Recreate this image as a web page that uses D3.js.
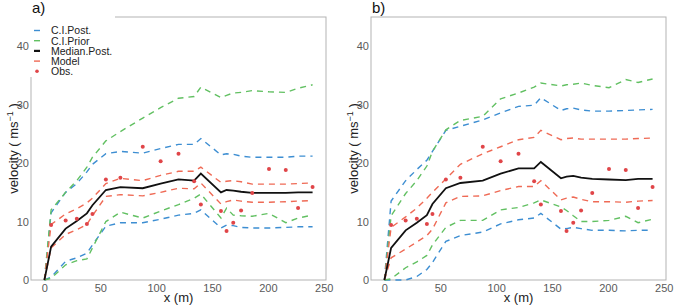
<!DOCTYPE html>
<html>
<head>
<meta charset="utf-8">
<script src="https://cdn.jsdelivr.net/npm/d3@7"></script>
<style>
  body { margin: 0; background: #fff; }
  svg { font-family: "Liberation Sans", Arial, sans-serif; }
</style>
</head>
<body>
<div id="chart"></div>
<script>
// distance along profile (m)
const xs = [0, 6, 19, 29, 38, 43, 55, 68, 88, 104, 120, 134, 140, 158, 163, 169, 176, 186, 201, 216, 227, 240];

// observations (no value at x = 0)
const obsX = [6, 19, 29, 38, 43, 55, 68, 88, 104, 120, 134, 140, 158, 163, 169, 176, 186, 201, 216, 227, 240];
const obsV = [9.4, 10.2, 10.5, 9.6, 11.3, 17.2, 17.5, 22.8, 20.3, 21.6, 16.9, 12.9, 11.8, 8.4, 9.8, 11.9, 14.9, 19.0, 18.8, 12.3, 15.9];

// panel a)
const aPostUp  = [0, 11.5, 15.0, 16.5, 18.5, 19.8, 21.6, 22.0, 21.7, 22.5, 23.2, 23.2, 24.2, 21.4, 21.6, 21.5, 21.2, 21.0, 21.0, 21.0, 21.2, 21.2];
const aPostLo  = [0, 0.5, 3.2, 3.8, 4.6, 6.0, 9.2, 9.8, 9.8, 10.4, 11.1, 11.4, 12.0, 8.9, 9.4, 9.3, 9.0, 8.9, 8.9, 9.0, 9.1, 9.1];
const aPriorUp = [0, 12.0, 15.0, 17.0, 19.3, 21.0, 23.8, 25.4, 27.7, 29.5, 31.1, 31.4, 33.0, 31.2, 31.6, 32.0, 32.1, 32.4, 32.2, 32.1, 32.8, 33.4];
const aPriorLo = [0, 0.3, 2.6, 3.3, 3.6, 5.5, 10.0, 11.6, 10.6, 11.8, 12.9, 14.0, 14.7, 10.6, 12.3, 11.1, 11.0, 10.9, 11.4, 9.8, 10.6, 11.1];
const aMedian  = [0, 5.7, 8.8, 10.1, 11.4, 12.8, 15.4, 15.9, 15.7, 16.5, 17.2, 17.0, 18.2, 15.0, 15.4, 15.3, 15.1, 14.9, 14.9, 14.9, 15.0, 15.0];
const aModelUp = [0, 9.5, 11.3, 12.2, 13.2, 14.0, 16.5, 17.4, 17.0, 17.9, 18.6, 18.6, 19.3, 16.7, 16.9, 17.0, 16.8, 16.4, 16.4, 16.4, 16.5, 16.6];
const aModelLo = [0, 5.5, 7.8, 8.6, 9.5, 11.0, 14.3, 14.6, 14.4, 15.0, 15.7, 15.6, 16.6, 13.0, 13.4, 13.7, 13.5, 13.3, 13.3, 13.4, 13.5, 13.6];

// panel b)
const bPostUp  = [0, 13.5, 17.0, 18.9, 20.5, 22.0, 25.6, 26.3, 27.4, 28.6, 29.7, 29.9, 31.2, 29.0, 29.3, 29.4, 29.1, 28.9, 28.9, 29.0, 29.1, 29.2];
const bPostLo  = [0, 0, 0, 0.6, 1.8, 3.0, 6.6, 7.6, 8.2, 9.6, 10.3, 10.6, 11.4, 8.7, 8.8, 9.0, 8.8, 8.5, 8.5, 8.4, 8.5, 8.5];
const bPriorUp = [0, 11.0, 14.8, 17.0, 19.5, 22.0, 25.7, 27.3, 28.0, 31.0, 32.0, 33.0, 33.7, 33.2, 33.4, 33.5, 33.7, 33.3, 32.9, 34.3, 33.8, 34.4];
const bPriorLo = [0, 0.2, 2.1, 3.1, 4.2, 6.0, 9.0, 10.2, 10.2, 12.0, 12.4, 13.2, 13.7, 12.5, 11.9, 11.0, 10.0, 10.0, 10.2, 10.9, 9.8, 10.4];
const bMedian  = [0, 5.5, 8.5, 9.8, 11.1, 13.0, 15.7, 16.6, 17.0, 18.2, 19.1, 19.1, 20.2, 17.4, 17.7, 17.8, 17.5, 17.3, 17.2, 17.1, 17.3, 17.3];
const bModelUp = [0, 9.0, 10.8, 12.3, 14.0, 15.0, 17.3, 19.8, 21.6, 22.8, 24.0, 24.4, 25.6, 24.0, 24.2, 24.3, 24.1, 24.1, 24.1, 24.1, 24.2, 24.3];
const bModelLo = [0, 3.8, 5.3, 6.5, 7.6, 8.7, 13.2, 14.3, 14.4, 15.3, 16.0, 16.0, 17.0, 13.7, 14.0, 14.2, 13.8, 13.4, 13.4, 13.3, 13.5, 13.6];

const xTicks = [0, 50, 100, 150, 200, 250];
const yTicks = [0, 10, 20, 30, 40];

const legendLabels = ["C.I.Post.", "C.I.Prior", "Median.Post.", "Model", "Obs."];

const colBlue = "#3d8ed2", colGreen = "#62c062", colRed = "#ef6a55", colObs = "#e04548";

const svg = d3.select("#chart").append("svg")
    .attr("width", 675)
    .attr("height", 306);

function drawPanel(left, tag, d, withLegend) {
  let margin = { top: 17, left: left };
  let width = 295, height = 263;

  let g = svg.append("g")
      .attr("transform", "translate(" + margin.left + "," + margin.top + ")");

  let x = d3.scaleLinear().domain([-12, 252]).range([0, width]);
  let y = d3.scaleLinear().domain([0, 45]).range([height, 0]);

  // border
  g.append("rect")
      .attr("width", width)
      .attr("height", height)
      .attr("fill", "none")
      .attr("stroke", "#b3b3b3")
      .attr("stroke-width", 1);

  // axes
  let xAxis = d3.axisBottom(x).tickValues(xTicks).tickSize(0).tickPadding(4);
  let yAxis = d3.axisLeft(y).tickValues(yTicks).tickSize(0).tickPadding(2);

  let gx = g.append("g").attr("transform", "translate(0," + height + ")").call(xAxis);
  let gy = g.append("g").call(yAxis);
  [gx, gy].forEach(a => {
    a.select(".domain").remove();
    a.selectAll("text")
        .attr("fill", "#5a5a5a")
        .style("font-size", "11px")
        .style("font-family", "Liberation Sans, Arial, sans-serif");
  });

  // axis titles
  g.append("text")
      .attr("x", width / 2)
      .attr("y", height + 22)
      .attr("text-anchor", "middle")
      .attr("fill", "#222")
      .style("font-size", "13px")
      .text("x (m)");

  let yt = g.append("text")
      .attr("transform", "translate(-13," + (height / 2) + ") rotate(-90)")
      .attr("text-anchor", "middle")
      .attr("fill", "#222")
      .style("font-size", "13px");
  yt.append("tspan").text("velocity ( ms");
  yt.append("tspan").attr("dy", -5).style("font-size", "9px").text("\u22121");
  yt.append("tspan").attr("dy", 5).text(" )");

  // panel tag
  svg.append("text")
      .attr("x", left + 1)
      .attr("y", 13)
      .attr("fill", "#111")
      .style("font-size", "15px")
      .text(tag);

  let line = d3.line()
      .x((v, i) => x(xs[i]))
      .y(v => y(v));

  let series = [
    { vals: d.postUp, col: colBlue, w: 1.4, dash: "6,5" },
    { vals: d.postLo, col: colBlue, w: 1.4, dash: "6,5" },
    { vals: d.priorUp, col: colGreen, w: 1.4, dash: "6,5" },
    { vals: d.priorLo, col: colGreen, w: 1.4, dash: "6,5" },
    { vals: d.modelUp, col: colRed, w: 1.4, dash: "6,5" },
    { vals: d.modelLo, col: colRed, w: 1.4, dash: "6,5" },
    { vals: d.median, col: "#111", w: 1.8, dash: null }
  ];

  series.forEach(s => {
    g.append("path")
        .datum(s.vals)
        .attr("d", line)
        .attr("fill", "none")
        .attr("stroke", s.col)
        .attr("stroke-width", s.w)
        .attr("stroke-dasharray", s.dash);
  });

  g.selectAll(".obs")
      .data(obsV)
      .enter().append("circle")
      .attr("class", "obs")
      .attr("cx", (v, i) => x(obsX[i]))
      .attr("cy", v => y(v))
      .attr("r", 2)
      .attr("fill", colObs);

  if (withLegend) {
    let lg = g.append("g");
    lg.append("rect")
        .attr("x", -1)
        .attr("y", -1)
        .attr("width", 85)
        .attr("height", 61)
        .attr("fill", "#fff");
    let keys = [
      { col: colBlue, type: "line", w: 1.4 },
      { col: colGreen, type: "line", w: 1.4 },
      { col: "#111", type: "line", w: 2.2 },
      { col: colRed, type: "line", w: 1.4 },
      { col: colObs, type: "dot" }
    ];
    legendLabels.forEach((lab, i) => {
      let cy = 13.5 + i * 10.2;
      if (keys[i].type === "line") {
        lg.append("line")
            .attr("x1", 3).attr("x2", 9)
            .attr("y1", cy).attr("y2", cy)
            .attr("stroke", keys[i].col)
            .attr("stroke-width", keys[i].w);
      } else {
        lg.append("circle")
            .attr("cx", 6).attr("cy", cy)
            .attr("r", 1.8)
            .attr("fill", keys[i].col);
      }
      lg.append("text")
          .attr("x", 20)
          .attr("y", cy + 3.8)
          .attr("fill", "#222")
          .style("font-size", "10.5px")
          .text(lab);
    });
  }
}

drawPanel(31, "a)", {
  postUp: aPostUp, postLo: aPostLo, priorUp: aPriorUp, priorLo: aPriorLo,
  median: aMedian, modelUp: aModelUp, modelLo: aModelLo
}, true);

drawPanel(371, "b)", {
  postUp: bPostUp, postLo: bPostLo, priorUp: bPriorUp, priorLo: bPriorLo,
  median: bMedian, modelUp: bModelUp, modelLo: bModelLo
}, false);
</script>
</body>
</html>
